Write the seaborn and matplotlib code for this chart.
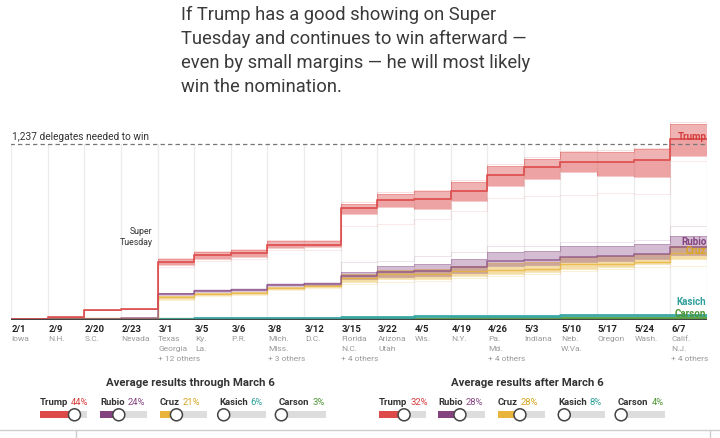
import matplotlib
matplotlib.use("Agg")
import matplotlib.pyplot as plt
import seaborn as sns
import pandas as pd
import numpy as np
from matplotlib.patches import Rectangle, Circle

sns.set_theme(style="white")
plt.rcParams['font.family'] = ['Roboto', 'DejaVu Sans']

# ---------------- data ----------------
dates = ["2/1", "2/9", "2/20", "2/23", "3/1", "3/5", "3/6", "3/8", "3/12", "3/15",
         "3/22", "4/5", "4/19", "4/26", "5/3", "5/10", "5/17", "5/24", "6/7"]
states = [["Iowa"], ["N.H."], ["S.C."], ["Nevada"], ["Texas", "Georgia", "+ 12 others"],
          ["Ky.", "La."], ["P.R."], ["Mich.", "Miss.", "+ 3 others"], ["D.C."],
          ["Florida", "N.C.", "+ 4 others"], ["Arizona", "Utah"], ["Wis."], ["N.Y."],
          ["Pa.", "Md.", "+ 4 others"], ["Indiana"], ["Neb.", "W.Va."], ["Oregon"],
          ["Wash."], ["Calif.", "N.J.", "+ 4 others"]]

trump_mid = [7, 24, 67, 80, 408, 457, 471, 527, 530, 787, 843, 850, 906, 1019, 1075, 1110, 1110, 1124, 1272]
trump_lo  = [7, 24, 67, 80, 387, 429, 443, 506, 510, 745, 795, 780, 835, 940, 990, 1040, 1010, 1005, 1150]
trump_hi  = [7, 24, 67, 80, 429, 478, 492, 555, 555, 815, 885, 905, 970, 1082, 1130, 1180, 1180, 1200, 1375]
trump_bot = [7, 24, 67, 80, 370, 415, 430, 490, 495, 660, 675, 710, 765, 857, 870, 880, 890, 885, 1117]
trump_top = [7, 24, 67, 80, 435, 485, 500, 560, 560, 830, 900, 915, 980, 1095, 1145, 1190, 1195, 1210, 1390]

rubio_mid = [7, 10, 10, 16, 183, 204, 211, 245, 255, 310, 335, 345, 370, 415, 420, 445, 450, 465, 510]
rubio_lo  = [7, 10, 10, 16, 178, 198, 205, 238, 248, 285, 305, 310, 330, 380, 385, 410, 415, 430, 460]
rubio_hi  = [7, 10, 10, 16, 188, 210, 217, 252, 262, 340, 380, 395, 430, 478, 485, 520, 520, 534, 590]
rubio_top = [7, 10, 10, 16, 192, 215, 222, 258, 268, 407, 415, 450, 478, 520, 520, 548, 548, 560, 660]

cruz_mid = [8, 11, 11, 17, 160, 185, 192, 228, 240, 295, 320, 325, 345, 350, 355, 390, 395, 410, 470]
cruz_lo  = [8, 11, 11, 17, 150, 178, 185, 220, 232, 267, 288, 288, 310, 325, 337, 358, 372, 393, 428]
cruz_hi  = [8, 11, 11, 17, 168, 192, 200, 235, 248, 320, 350, 360, 380, 400, 410, 440, 450, 465, 520]
cruz_bot = [8, 11, 11, 17, 140, 172, 178, 212, 225, 255, 270, 275, 295, 310, 320, 345, 355, 375, 380]

kasich = [1, 5, 5, 6, 10, 12, 12, 14, 15, 22, 24, 25, 27, 29, 30, 32, 33, 35, 38]
carson = [0, 1, 1, 1, 5, 6, 6, 7, 7, 9, 10, 10, 11, 12, 12, 13, 13, 14, 15]

needed = 1237

names = ["Trump", "Rubio", "Cruz", "Kasich", "Carson"]
pct_before = [44, 24, 21, 6, 3]
pct_after = [32, 28, 28, 8, 4]
slider_max = 60

colors = {"Trump": "#dd4a4a", "Rubio": "#84437f", "Cruz": "#e8b43c",
          "Kasich": "#3aa8a4", "Carson": "#5fa646"}
label_colors = {"Trump": "#d63c3c", "Rubio": "#84437f", "Cruz": "#d9a520",
                "Kasich": "#2f9f9b", "Carson": "#4d9435"}

# ---------------- figure ----------------
W, H = 720, 439
fig = plt.figure(figsize=(W / 100, H / 100), dpi=100)
ax = fig.add_axes([11 / W, 1 - 321 / H, 696 / W, 201 / H])
n = len(dates)
xs = np.arange(n + 1)
ax.set_xlim(0, n)
ax.set_ylim(0, 1412)


def ext(a):
    return list(a) + [a[-1]]


# gridlines
for i in range(n + 1):
    ax.plot([i, i], [0, needed], color="#ececec", lw=1, zorder=0)


def band(lo, hi, c, a):
    ax.fill_between(xs, ext(lo), ext(hi), step="post", color=c, alpha=a, lw=0, zorder=1)


def streak(vals, c, a, lw=0.7):
    df = pd.DataFrame({"x": xs, "v": ext(vals)})
    sns.lineplot(data=df, x="x", y="v", color=c, lw=lw, alpha=a,
                 drawstyle="steps-post", estimator=None, sort=False, ax=ax,
                 legend=False, zorder=2)


# Trump band
band(trump_lo, trump_hi, colors["Trump"], 0.42)
band(trump_lo, trump_mid, colors["Trump"], 0.15)
for v, a in [(trump_bot, 0.12), (trump_top, 0.18), (trump_lo, 0.3), (trump_hi, 0.3)]:
    streak(v, colors["Trump"], a)
# Cruz / Rubio bands
band(cruz_lo, cruz_hi, colors["Cruz"], 0.45)
band(rubio_lo, rubio_hi, colors["Rubio"], 0.35)
for v, a in [(cruz_bot, 0.2), (cruz_lo, 0.35), (cruz_hi, 0.3)]:
    streak(v, colors["Cruz"], a)
for v, a in [(rubio_top, 0.15), (rubio_lo, 0.3), (rubio_hi, 0.3)]:
    streak(v, colors["Rubio"], a)

# mid lines via seaborn
series = {"Trump": trump_mid, "Rubio": rubio_mid, "Cruz": cruz_mid,
          "Kasich": kasich, "Carson": carson}
widths = {"Trump": 1.4, "Rubio": 1.1, "Cruz": 1.0, "Kasich": 2.0, "Carson": 1.6}
alphas = {"Trump": 0.85, "Rubio": 0.75, "Cruz": 0.8, "Kasich": 1.0, "Carson": 1.0}
for nm in ["Carson", "Kasich", "Cruz", "Rubio", "Trump"]:
    df = pd.DataFrame({"x": xs, "v": ext(series[nm])})
    sns.lineplot(data=df, x="x", y="v", color=colors[nm], lw=widths[nm], alpha=alphas[nm],
                 drawstyle="steps-post", estimator=None, sort=False, ax=ax,
                 legend=False, zorder=3)

# baseline and needed line
ax.plot([0, n], [0, 0], color="#444444", lw=1.6, zorder=4)
ax.plot([-0.03, n], [needed, needed], color="#777777", lw=0.9, ls=(0, (3.5, 2.5)), zorder=2)
ax.text(0.03, needed + 18, "1,237 delegates needed to win", fontsize=7.3,
        color="#333333", ha="left", va="bottom")
ax.text(3.87, 590, "Super\nTuesday", fontsize=6.3, color="#333333",
        ha="right", va="center", linespacing=1.35)

# right labels
lab_y = {"Trump": 1290, "Rubio": 555, "Cruz": 490, "Kasich": 130, "Carson": 50}
for nm in names:
    ax.text(n - 0.02, lab_y[nm], nm, fontsize=7, fontweight="bold",
            color=label_colors[nm], ha="right", va="center", zorder=6)

ax.set_xticks([])
ax.set_yticks([])
for s in ax.spines.values():
    s.set_visible(False)
ax.set_xlabel("")
ax.set_ylabel("")

# x tick labels
tr = ax.get_xaxis_transform()
for i, (d, st) in enumerate(zip(dates, states)):
    ax.text(i + 0.02, -8 / 201, d, transform=tr, fontsize=6.8, fontweight="bold",
            color="#222222", ha="left", va="center")
    for j, s in enumerate(st):
        ax.text(i + 0.02, -(18 + 10 * j) / 201, s, transform=tr, fontsize=6,
                color="#999999", ha="left", va="center")

# ---------------- overlay (title + sliders) ----------------
ov = fig.add_axes([0, 0, 1, 1], zorder=10)
ov.set_xlim(0, W)
ov.set_ylim(H, 0)
ov.axis("off")
ov.patch.set_alpha(0)

title = ["If Trump has a good showing on Super",
         "Tuesday and continues to win afterward \u2014",
         "even by small margins \u2014 he will most likely",
         "win the nomination."]
for k, line in enumerate(title):
    ov.text(181, 15 + 24 * k, line, fontsize=13.2, color="#3a3a3a", fontweight="normal",
            ha="left", va="center")

fig.canvas.draw()
renderer = fig.canvas.get_renderer()


def panel(cx, heading, starts, pcts):
    ov.text(cx, 383, heading, fontsize=8.2, fontweight="bold", color="#333333",
            ha="center", va="center")
    for nm, x0, p in zip(names, starts, pcts):
        t = ov.text(x0, 403, nm, fontsize=6.8, fontweight="bold", color="#333333",
                    ha="left", va="center")
        bb = t.get_window_extent(renderer)
        ov.text(x0 + bb.width + 3, 403, f"{p}%", fontsize=6.8, color=label_colors[nm],
                ha="left", va="center")
        bw = 47
        ov.add_patch(Rectangle((x0, 412), bw, 7.5, color="#dddddd", lw=0))
        kx = x0 + bw * p / slider_max
        ov.add_patch(Rectangle((x0, 412), kx - x0, 7.5, color=colors[nm], lw=0))
        ov.add_patch(Circle((kx, 415.8), 6, facecolor="white", edgecolor="#444444", lw=1.1))


panel(190, "Average results through March 6", [40, 100, 160, 219, 279], pct_before)
panel(527, "Average results after March 6", [379, 438, 498, 558, 618], pct_after)

ov.plot([0, W], [431, 431], color="#cccccc", lw=1)
ov.plot([76, 76], [431, H], color="#cccccc", lw=1)
ov.plot([710, 710], [431, H], color="#cccccc", lw=1)

fig.savefig("out.png", dpi=100)
